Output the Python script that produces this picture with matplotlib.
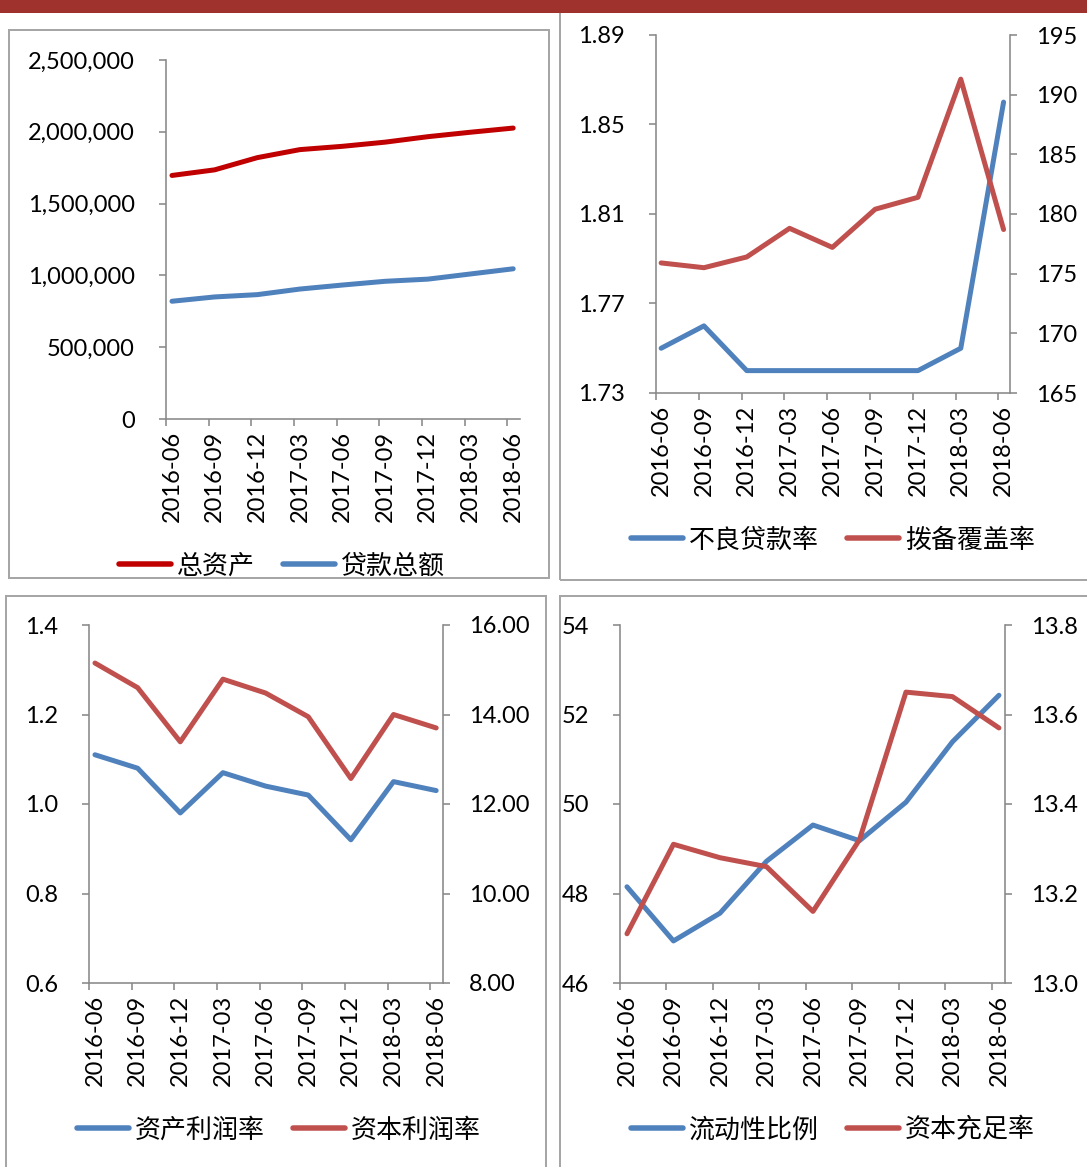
import numpy as np
import matplotlib.pyplot as plt
from matplotlib.patches import Rectangle
from matplotlib.ticker import FuncFormatter

plt.rcParams['font.family'] = ['Lato', 'Noto Sans CJK SC', 'DejaVu Sans']

# 数据
dates = ['2016-06', '2016-09', '2016-12', '2017-03', '2017-06',
         '2017-09', '2017-12', '2018-03', '2018-06']
total_assets = [1696000, 1735000, 1820000, 1876000, 1899000,
                1928000, 1966000, 1997000, 2026000]
loans = [820000, 850000, 866000, 905000, 933000,
         959000, 974000, 1010000, 1046000]
npl_ratio = [1.75, 1.76, 1.74, 1.74, 1.74, 1.74, 1.74, 1.75, 1.86]
provision_cov = [175.9, 175.5, 176.4, 178.8, 177.2, 180.4, 181.4, 191.3, 178.7]
roa = [1.11, 1.08, 0.98, 1.07, 1.04, 1.02, 0.92, 1.05, 1.03]
roe = [15.15, 14.6, 13.39, 14.79, 14.48, 13.95, 12.57, 14.0, 13.7]
liquidity = [48.15, 46.94, 47.56, 48.72, 49.53, 49.18, 50.04, 51.39, 52.43]
car = [13.11, 13.31, 13.28, 13.26, 13.16, 13.32, 13.65, 13.64, 13.57]

W, H = 1087, 1167
fig = plt.figure(figsize=(W / 100, H / 100), dpi=100)

GRAY = '#898989'
BLUE = '#4F81BD'
RED = '#C0504D'
DARKRED = '#C00000'
PX = 0.72  # 1 px in points
FS = 17

x = np.arange(len(dates))


def px_axes(left, top, right, bottom):
    return fig.add_axes([left / W, 1 - bottom / H, (right - left) / W, (bottom - top) / H])


def setup(ax, off, xmax):
    for s in ['top', 'right']:
        ax.spines[s].set_visible(False)
    for s in ['left', 'bottom']:
        ax.spines[s].set_color(GRAY)
        ax.spines[s].set_linewidth(1.6 * PX)
    ax.set_xlim(-off, xmax)
    ax.set_xticks(x)
    ax.set_xticklabels(dates, rotation=90)
    ax.set_xticks(x - off, minor=True)
    ax.tick_params(axis='x', which='major', length=0, pad=12 * PX, labelsize=FS)
    ax.tick_params(axis='x', which='minor', length=7 * PX, width=1.6 * PX, color=GRAY)
    ax.tick_params(axis='y', length=7 * PX, width=1.6 * PX, color=GRAY,
                   pad=24 * PX, labelsize=FS)


def setup_right(ax2):
    for s in ['top', 'left', 'bottom']:
        ax2.spines[s].set_visible(False)
    ax2.spines['right'].set_color(GRAY)
    ax2.spines['right'].set_linewidth(1.6 * PX)
    ax2.tick_params(axis='y', length=7 * PX, width=1.6 * PX, color=GRAY,
                    pad=19 * PX, labelsize=FS)


def line(ax, y, color, label):
    return ax.plot(x, y, color=color, lw=5 * PX, label=label,
                   solid_capstyle='round', solid_joinstyle='round')[0]


def legend(handles, cx, cy):
    leg = fig.legend(handles, [h.get_label() for h in handles], loc='center',
                     bbox_to_anchor=(cx / W, 1 - cy / H), ncol=2, frameon=False,
                     handlelength=2.0, handletextpad=0.22, columnspacing=1.1,
                     prop={'family': ['Noto Sans CJK SC'], 'size': 18.7})
    for h in leg.legend_handles:
        h.set_linewidth(5.5 * PX)


# 背景框
border = dict(transform=fig.transFigure, fill=False, ec='#A6A6A6', lw=2 * PX)
fig.add_artist(Rectangle((9 / W, 1 - 578 / H), 540 / W, 548 / H, **border))
fig.add_artist(Rectangle((560 / W, 1 - 580 / H), 600 / W, 600 / H, **border))
fig.add_artist(Rectangle((6 / W, -0.1), 540 / W, 0.1 + 1 - 596 / H, **border))
fig.add_artist(Rectangle((560 / W, -0.1), 600 / W, 0.1 + 1 - 596 / H, **border))
fig.add_artist(Rectangle((0, 1 - 13 / H), 1, 13 / H, transform=fig.transFigure,
                         fc='#A0322D', ec='none', zorder=5))

# 图1 总资产 / 贷款总额
ax1 = px_axes(166, 60, 520, 419)
setup(ax1, 0.14, 8.16)
ax1.set_ylim(0, 2500000)
ax1.set_yticks(np.arange(0, 2500001, 500000))
ax1.yaxis.set_major_formatter(FuncFormatter(lambda v, p: f'{v:,.0f}'))
h1 = line(ax1, total_assets, DARKRED, '总资产')
h2 = line(ax1, loans, BLUE, '贷款总额')
legend([h1, h2], 282, 566)

# 图2 不良贷款率 / 拨备覆盖率
ax2 = px_axes(656, 35, 1010, 393)
setup(ax2, 0.12, 8.15)
ax2.set_ylim(1.73, 1.89)
ax2.set_yticks([1.73, 1.77, 1.81, 1.85, 1.89])
ax2.yaxis.set_major_formatter(FuncFormatter(lambda v, p: f'{v:.2f}'))
h1 = line(ax2, npl_ratio, BLUE, '不良贷款率')
ax2r = ax2.twinx()
setup_right(ax2r)
ax2r.set_ylim(165, 195)
ax2r.set_yticks(np.arange(165, 196, 5))
h2 = line(ax2r, provision_cov, RED, '拨备覆盖率')
legend([h1, h2], 833, 540)

# 图3 资产利润率 / 资本利润率
ax3 = px_axes(89, 625, 443, 983)
setup(ax3, 0.14, 8.16)
ax3.set_ylim(0.6, 1.4)
ax3.set_yticks([0.6, 0.8, 1.0, 1.2, 1.4])
ax3.yaxis.set_major_formatter(FuncFormatter(lambda v, p: f'{v:.1f}'))
h1 = line(ax3, roa, BLUE, '资产利润率')
ax3r = ax3.twinx()
setup_right(ax3r)
ax3r.set_ylim(8, 16)
ax3r.set_yticks([8, 10, 12, 14, 16])
ax3r.yaxis.set_major_formatter(FuncFormatter(lambda v, p: f'{v:.2f}'))
h2 = line(ax3r, roe, RED, '资本利润率')
legend([h1, h2], 279, 1130)

# 图4 流动性比例 / 资本充足率
ax4 = px_axes(620, 625, 1005, 983)
setup(ax4, 0.15, 8.13)
ax4.set_ylim(46, 54)
ax4.set_yticks([46, 48, 50, 52, 54])
h1 = line(ax4, liquidity, BLUE, '流动性比例')
ax4r = ax4.twinx()
setup_right(ax4r)
ax4r.set_ylim(13.0, 13.8)
ax4r.set_yticks([13.0, 13.2, 13.4, 13.6, 13.8])
ax4r.yaxis.set_major_formatter(FuncFormatter(lambda v, p: f'{v:.1f}'))
h2 = line(ax4r, car, RED, '资本充足率')
legend([h1, h2], 833, 1130)

fig.savefig('out.png', dpi=100)
